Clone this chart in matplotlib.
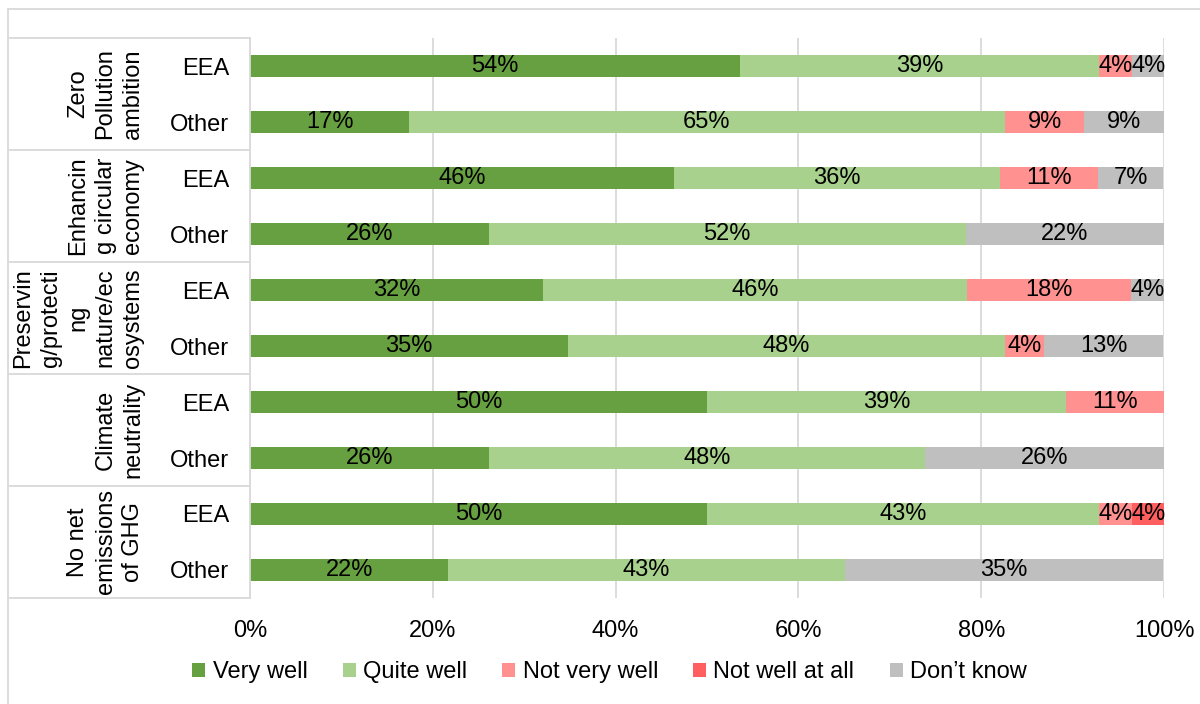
import numpy as np
import matplotlib.pyplot as plt
from matplotlib.lines import Line2D
from matplotlib.transforms import blended_transform_factory

plt.rcParams['font.family'] = ['Liberation Sans', 'DejaVu Sans']
plt.rcParams['font.size'] = 17

topics = ['Zero\nPollution\nambition',
          'Enhancin\ng circular\neconomy',
          'Preservin\ng/protecti\nng\nnature/ec\nosystems',
          'Climate\nneutrality',
          'No net\nemissions\nof GHG']
groups = ['EEA', 'Other']
answers = ['Very well', 'Quite well', 'Not very well', 'Not well at all', 'Don\u2019t know']
colors = ['#67A040', '#A9D18E', '#FF9191', '#FF5F5F', '#BFBFBF']

# shares in %, one entry per bar (EEA, Other for each topic, top to bottom)
very_well       = [53.6, 17.4, 46.4, 26.1, 32.1, 34.8, 50.0, 26.1, 50.0, 21.7]
quite_well      = [39.3, 65.2, 35.7, 52.2, 46.4, 47.8, 39.3, 47.8, 42.9, 43.4]
not_very_well   = [3.6, 8.7, 10.7, 0.0, 17.9, 4.3, 10.7, 0.0, 3.6, 0.0]
not_well_at_all = [0.0, 0.0, 0.0, 0.0, 0.0, 0.0, 0.0, 0.0, 3.6, 0.0]
dont_know       = [3.6, 8.7, 7.1, 21.7, 3.6, 13.0, 0.0, 26.1, 0.0, 34.8]

series = [very_well, quite_well, not_very_well, not_well_at_all, dont_know]

W, H = 1200, 704
fig = plt.figure(figsize=(W/100, H/100), dpi=100)
ax = fig.add_axes([250/W, 1-598/H, 914/W, 560/H])

y = np.arange(len(very_well))
left = np.zeros(len(y))
handles = []
for vals, col, name in zip(series, colors, answers):
    vals = np.array(vals)
    b = ax.barh(y, vals, left=left, height=0.41, color=col, label=name)
    handles.append(b)
    for yi, l, v in zip(y, left, vals):
        if v > 0:
            ax.text(l + v/2, yi, f'{v:.0f}%', ha='center', va='center', color='black')
    left += vals

ax.set_xlim(0, 100)
ax.set_ylim(len(y) - 0.5, -0.5)
ax.set_xticks(np.arange(0, 101, 20))
ax.set_xticklabels([f'{t}%' for t in range(0, 101, 20)])
ax.set_yticks(y)
ax.set_yticklabels(groups * len(topics))
ax.tick_params(axis='y', length=0, pad=15)
ax.tick_params(axis='x', length=0, pad=16)
ax.xaxis.grid(True, color='#D9D9D9', lw=1.3)
ax.set_axisbelow(True)
for s in ax.spines.values():
    s.set_visible(False)

gray = '#D9D9D9'
# table lines on the left: separators between topics
tr = blended_transform_factory(fig.transFigure, ax.transData)
for k in range(len(topics) + 1):
    yb = 2*k - 0.5
    fig.add_artist(Line2D([8/W, 250/W], [yb, yb], color=gray, lw=1.3, transform=tr))
for k, name in enumerate(topics):
    fig.text(144/W, 2*k + 0.5, name, rotation=90, ha='right', va='center',
             multialignment='center', linespacing=1.32, transform=tr)
fig.add_artist(Line2D([250/W, 250/W], [1-38/H, 1-598/H], color=gray, lw=1.3))

# outer frame
fig.add_artist(Line2D([8/W, 8/W], [1-9/H, 0], color=gray, lw=1.3))
fig.add_artist(Line2D([8/W, 1], [1-9/H, 1-9/H], color=gray, lw=1.3))

fig.legend(handles=handles, loc='center', bbox_to_anchor=(0.508, 1-672/H), ncol=5,
           frameon=False, handlelength=0.55, handleheight=0.55,
           handletextpad=0.3, columnspacing=1.5)

plt.savefig('out.png', dpi=100)
